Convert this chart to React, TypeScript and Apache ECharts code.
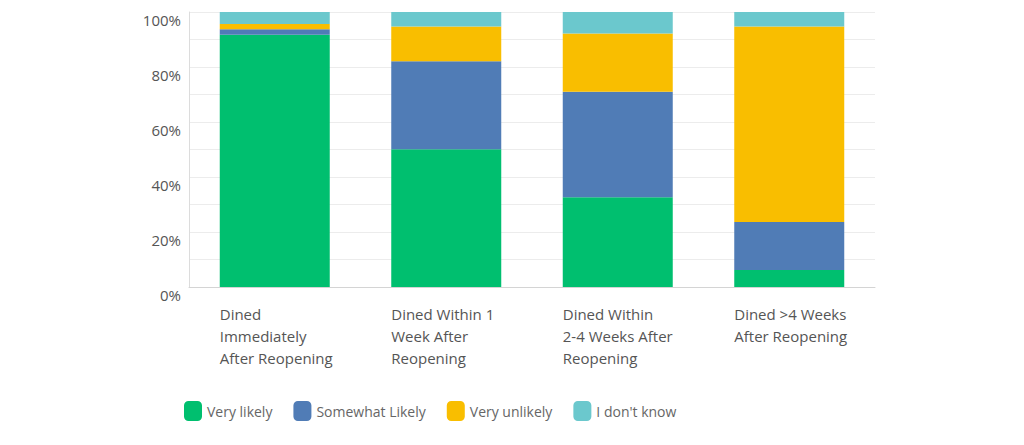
import React, { useEffect, useRef } from "react";
import * as echarts from "echarts";

const categories = [
  "Dined\nImmediately\nAfter Reopening",
  "Dined Within 1\nWeek After\nReopening",
  "Dined Within\n2-4 Weeks After\nReopening",
  "Dined >4 Weeks\nAfter Reopening",
];
const veryLikely = [91.7, 50.1, 32.6, 6.2];
const somewhatLikely = [2.0, 32.0, 38.4, 17.4];
const veryUnlikely = [1.9, 12.6, 21.2, 71.1];
const dontKnow = [4.4, 5.3, 7.8, 5.3];
const seriesNames = ["Very likely", "Somewhat Likely", "Very unlikely", "I don't know"];
const colors = ["#00bf6f", "#507cb6", "#f9be00", "#6bc8cd"];
const yTicks = [0, 20, 40, 60, 80, 100];

const FONT = "'Open Sans', sans-serif";

export default function App() {
  const ref = useRef<HTMLDivElement>(null);
  useEffect(() => {
    if (!ref.current) return;
    const chart = echarts.init(ref.current, undefined, { renderer: "svg" });
    const data = [veryLikely, somewhatLikely, veryUnlikely, dontKnow];
    chart.setOption({
      animation: false,
      grid: { left: 181, right: 141, top: 4, bottom: 158, containLabel: false },
      legend: {
        left: 176,
        top: 393,
        padding: 0,
        itemWidth: 18,
        itemHeight: 20,
        itemGap: 21,
        icon: "roundRect",
        textStyle: { fontFamily: FONT, fontSize: 14, color: "#666" },
        data: seriesNames,
      },
      xAxis: {
        type: "category",
        data: categories,
        axisLine: { show: true, lineStyle: { color: "#d4d4d4", width: 1 } },
        axisTick: { show: false },
        axisLabel: {
          interval: 0,
          align: "left",
          margin: 16,
          lineHeight: 22,
          padding: [0, 0, 0, -55],
          fontFamily: FONT,
          fontSize: 15,
          color: "#555",
        },
      },
      yAxis: {
        type: "value",
        min: 0,
        max: 100,
        interval: 10,
        axisLine: { show: true, lineStyle: { color: "#dcdcdc", width: 1 } },
        axisTick: { show: false },
        splitLine: { lineStyle: { color: "#ececec", width: 1 } },
        axisLabel: {
          margin: 8,
          verticalAlign: "top",
          padding: [0, 0, 0, 0],
          fontFamily: FONT,
          fontSize: 15,
          color: "#555",
          formatter: (v: number) => (yTicks.includes(v) ? v + "%" : ""),
        },
      },
      series: seriesNames.map((name, i) => ({
        name,
        type: "bar",
        stack: "total",
        barWidth: 110,
        data: data[i],
        itemStyle: { color: colors[i] },
      })),
    });
    return () => chart.dispose();
  }, []);
  return <div ref={ref} style={{ width: 1008, height: 437 }} />;
}
